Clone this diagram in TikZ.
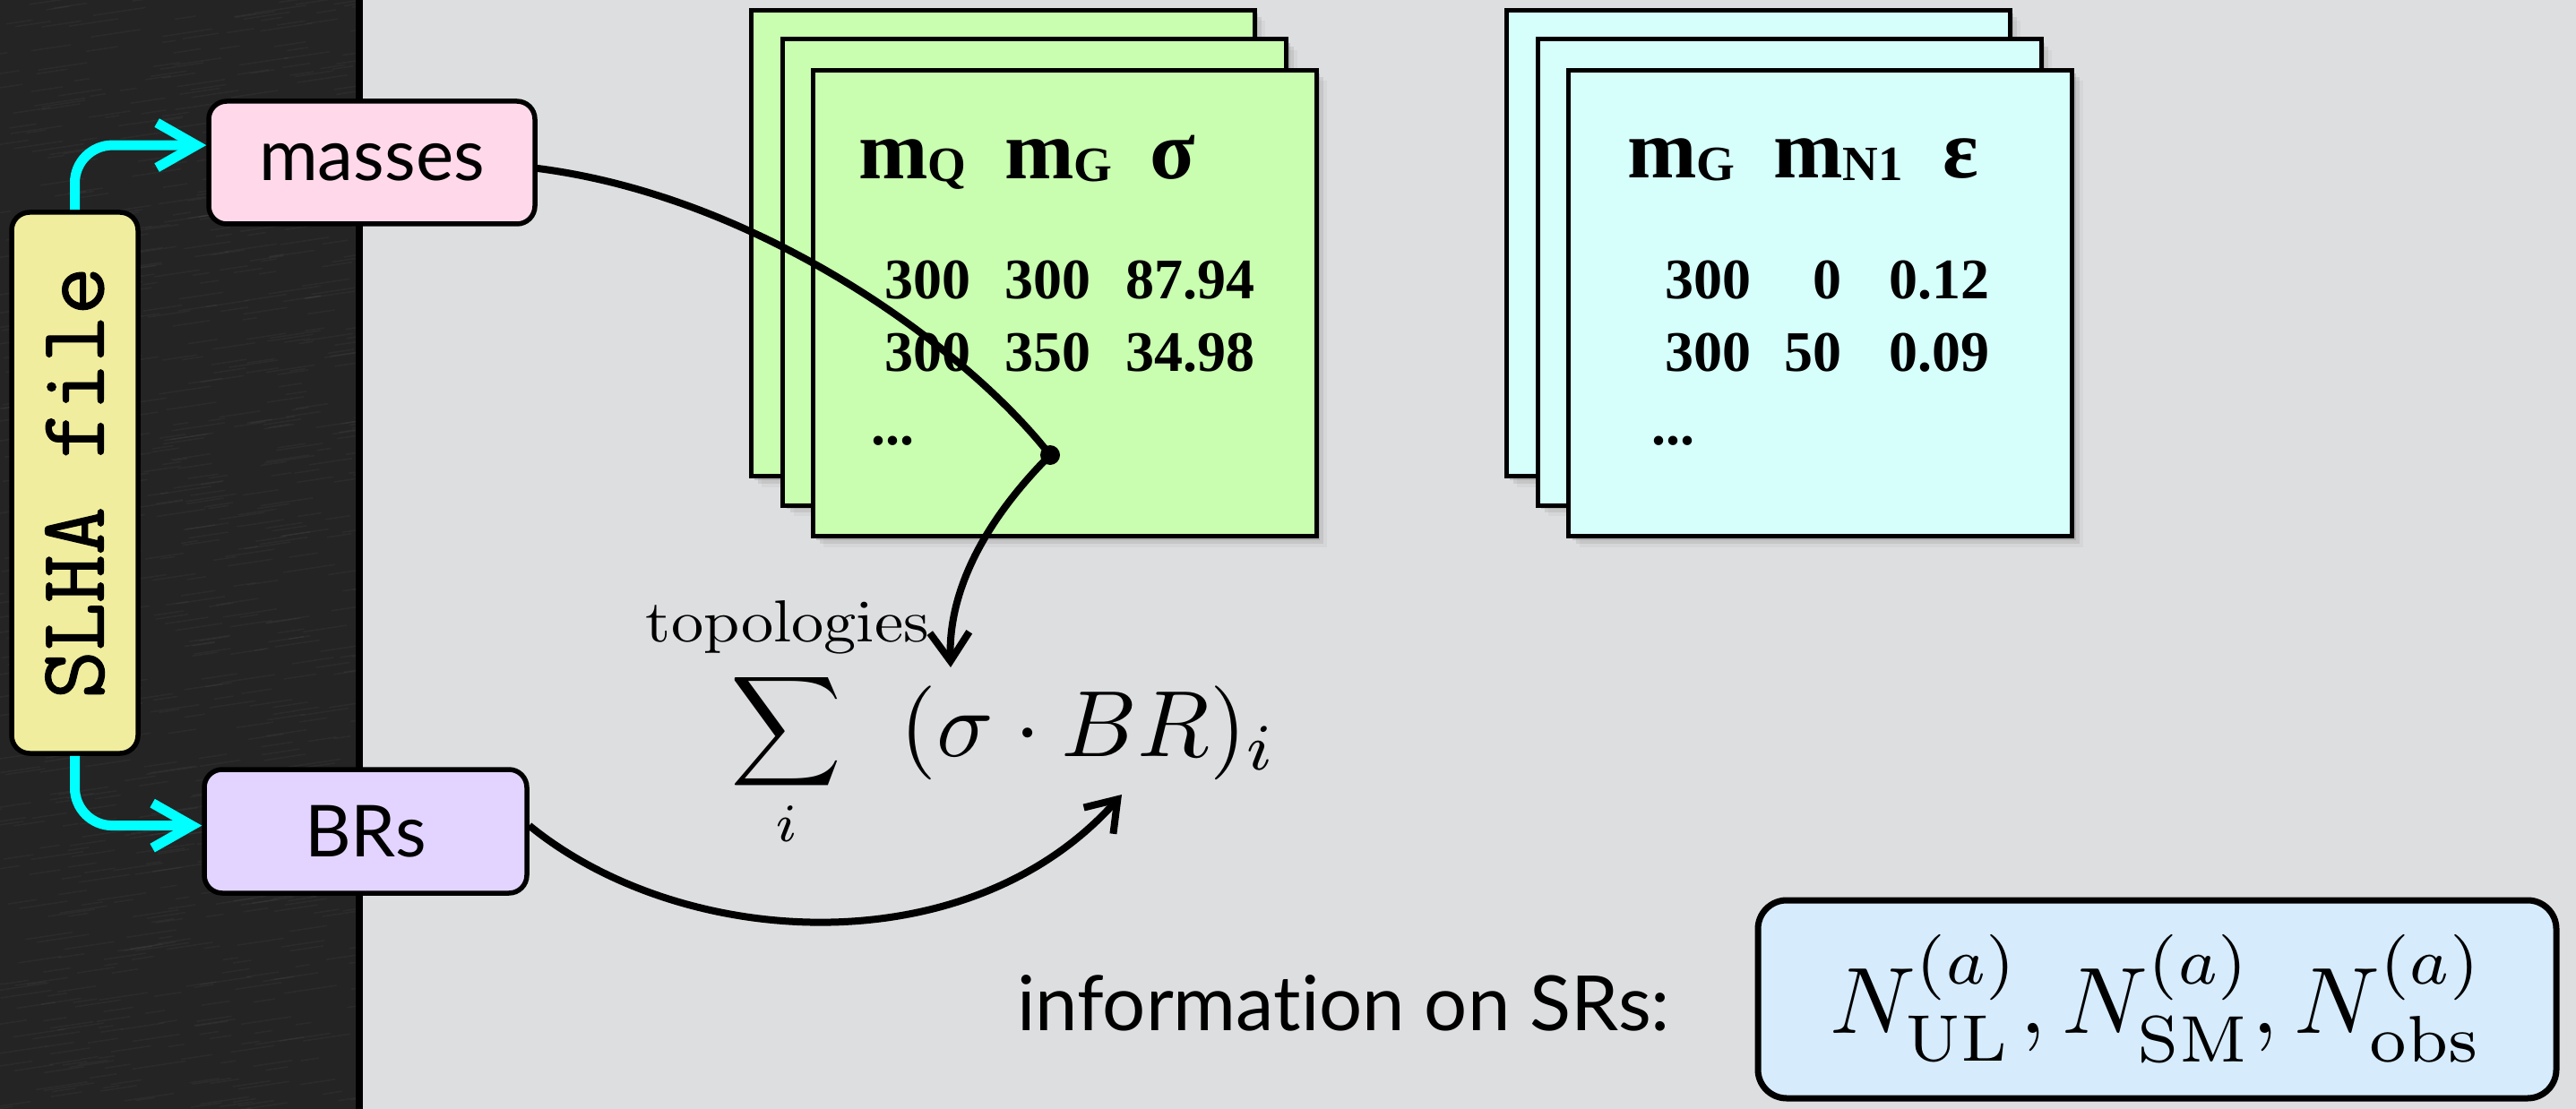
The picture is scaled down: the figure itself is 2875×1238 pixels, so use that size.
\documentclass[tikz,border=0pt]{standalone}
\usepackage{amsmath}
\usepackage{graphicx}
\usepackage{fontspec}
\usetikzlibrary{arrows.meta,shadows}
\newfontfamily\gillfont[Ligatures=NoCommon]{Lato}
\newfontfamily\timesfont{Liberation Serif}
\newfontfamily\slhafont[FakeBold=1.2]{Latin Modern Mono}
\definecolor{darkbg}{RGB}{36,36,36}
\definecolor{lightbg}{RGB}{221,222,224}
\definecolor{cardgreen}{RGB}{201,253,176}
\definecolor{cardcyan}{RGB}{214,255,252}
\definecolor{pinkbox}{RGB}{255,217,234}
\definecolor{lavbox}{RGB}{226,212,255}
\definecolor{slhayellow}{RGB}{240,237,158}
\definecolor{nblue}{RGB}{214,235,252}
\definecolor{cyanline}{RGB}{0,255,255}
\begin{document}
\begin{tikzpicture}[x=1pt,y=-1pt,
  card/.style={draw=black, line width=5pt, minimum width=562pt, minimum height=520pt, inner sep=0pt,
    drop shadow={shadow xshift=4pt,shadow yshift=-4pt,opacity=.3},
    drop shadow={shadow xshift=8pt,shadow yshift=-8pt,opacity=.18},
    drop shadow={shadow xshift=12pt,shadow yshift=-12pt,opacity=.08}},
  gcard/.style={card, fill=cardgreen},
  ccard/.style={card, fill=cardcyan},
  rbox/.style={draw=black, line width=5.5pt, rounded corners=20pt, inner sep=0pt},
  gill/.style={font=\gillfont\fontsize{80}{80}\selectfont},
  hd/.style={font=\timesfont\bfseries\fontsize{93}{93}\selectfont, inner sep=0pt, anchor=base west},
  num/.style={font=\timesfont\bfseries\fontsize{64}{64}\selectfont, inner sep=0pt, anchor=base east},
  dots/.style={font=\timesfont\bfseries\fontsize{64}{64}\selectfont, inner sep=0pt, anchor=base west},
  conn/.style={line width=8pt, draw=black},
  blackhead/.style={-{Straight Barb[length=32pt,width=44pt]}},
  cyanconn/.style={line width=11pt, draw=cyanline, rounded corners=42pt, -{Straight Barb[length=44pt,width=50pt]}},
  mathtxt/.style={inner sep=0pt},
  fiber/.style={line width=1.5pt, white, opacity=0.035}
]
\useasboundingbox (0,0) rectangle (2875,1238);
% backgrounds
\fill[lightbg] (0,0) rectangle (2875,1238);
\fill[darkbg] (0,0) rectangle (401,1238);
\begin{scope}
  \clip (0,0) rectangle (397,1238);
  \pgfmathsetseed{7}
  \foreach \k in {1,...,900}{
    \pgfmathsetmacro{\xa}{rnd*440-20}
    \pgfmathsetmacro{\ya}{rnd*1260}
    \pgfmathsetmacro{\ln}{15+rnd*45}
    \draw[fiber] (\xa,\ya) -- ++(\ln,-0.15*\ln);
  }
\end{scope}
\draw[line width=8pt] (401,0) -- (401,1238);

% green stack
\node[gcard] (g3) at (1119,271.5) {};
\node[gcard] (g2) at (1154.5,304) {};
\node[gcard] (g1) at (1188,338.5) {};
% cyan stack
\node[ccard] (c3) at (1962,271.5) {};
\node[ccard] (c2) at (1997,304) {};
\node[ccard] (c1) at (2031.5,338.5) {};

% green header
\node[hd] (gh1) at (958,200) {m\fontsize{55}{55}\selectfont\raisebox{-3pt}{Q}};
\node[hd] (gh2) at (1121,200) {m\fontsize{55}{55}\selectfont\raisebox{-3pt}{G}};
\node[hd] (gh3) at (1283,200) {σ};
% green rows
\node[num] (gr11) at (1084,334) {300};
\node[num] (gr12) at (1218,334) {300};
\node[num] (gr13) at (1401,334) {87.94};
\node[num] (gr21) at (1084,414) {300};
\node[num] (gr22) at (1218,414) {350};
\node[num] (gr23) at (1401,414) {34.98};
\node[dots] (gdots) at (972,496) {...};

% cyan header
\node[hd] (ch1) at (1816,199) {m\fontsize{55}{55}\selectfont\raisebox{-3pt}{G}};
\node[hd] (ch2) at (1979,199) {m\fontsize{55}{55}\selectfont\raisebox{-3pt}{N1}};
\node[hd] (ch3) at (2168,199) {ε};
% cyan rows
\node[num] (cr11) at (1955,334) {300};
\node[num] (cr12) at (2056,334) {0};
\node[num] (cr13) at (2221,334) {0.12};
\node[num] (cr21) at (1955,414) {300};
\node[num] (cr22) at (2056,414) {50};
\node[num] (cr23) at (2221,414) {0.09};
\node[dots] (cdots) at (1843,496) {...};

% input boxes
\node[rbox, fill=slhayellow, rotate=90, minimum width=604pt, minimum height=141pt,
      font=\slhafont\fontsize{104}{104}\selectfont] (slha) at (83.5,539) {SLHA file};
\node[rbox, fill=pinkbox, minimum width=364pt, minimum height=137pt, gill] (masses) at (415,181.5) {masses};
\node[rbox, fill=lavbox, minimum width=360pt, minimum height=138pt, gill] (brs) at (408,928) {BRs};

% cyan connectors
\draw[cyanconn] (slha.east) |- (masses.174);
\draw[cyanconn] (slha.west) |- (brs.178);

% formula
\node[mathtxt, anchor=base] (topo) at (879,716)
  {\resizebox{316pt}{46pt}{\usefont{OT1}{cmr}{m}{n}topologies}};
\node[mathtxt, anchor=base] (sumop) at (878,838)
  {\scalebox{8.6}{$\displaystyle\sum_{i}$}};
\node[mathtxt, anchor=base west] (sigbr) at (1004,844) {\scalebox{10.5}{$(\sigma\cdot BR)_i$}};

% black connectors
\node[circle, fill=black, inner sep=0pt, minimum size=22pt] (dot) at (1172,508) {};
\coordinate (tipsig) at (1061,745);
\coordinate (tipbr) at (1252,887);
\draw[conn] (masses.358) .. controls (850,220) and (1080,390) .. (dot.center);
\draw[conn, blackhead] (dot.center) .. controls (1110,570) and (1058,650) .. (tipsig);
\draw[conn, blackhead] (brs.2) .. controls (760,1060) and (1080,1080) .. (tipbr);

% signal regions
\node[inner sep=0pt, anchor=base west, font=\gillfont\fontsize{85}{85}\selectfont] (srlabel) at (1135,1150) {information on SRs:};
\node[draw=black, line width=7pt, rounded corners=32pt, fill=nblue, minimum width=891pt, minimum height=221pt, inner sep=0pt] (srbox) at (2407.5,1115.5)
  {\scalebox{10.5}{$N^{(a)}_{\mathrm{UL}}, N^{(a)}_{\mathrm{SM}}, N^{(a)}_{\mathrm{obs}}$}};
\end{tikzpicture}
\end{document}
